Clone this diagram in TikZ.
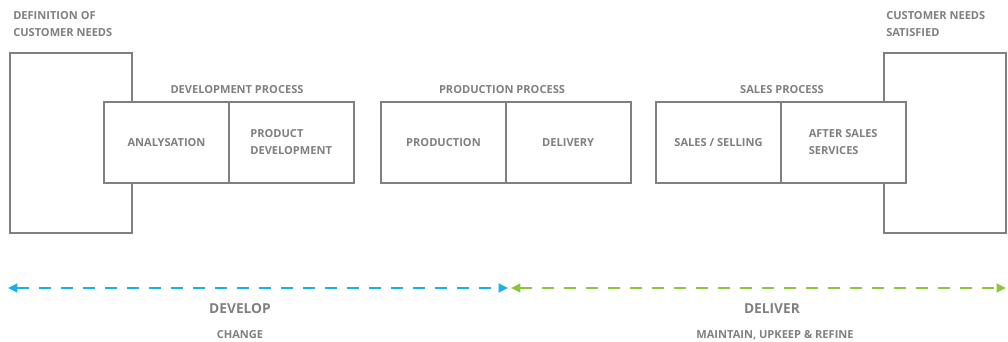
\documentclass[tikz,border=0pt]{standalone}
\usepackage{fontspec}
\setmainfont{Open Sans}
\usetikzlibrary{positioning,arrows.meta}

\definecolor{boxgray}{HTML}{808080}
\definecolor{txtgray}{HTML}{808080}
\definecolor{devblue}{HTML}{1AB0EA}
\definecolor{delgreen}{HTML}{8CC63F}

\tikzset{
  needbox/.style={draw=boxgray, line width=1.5pt, fill=white,
    minimum width=91.5pt, minimum height=135pt, outer sep=0pt},
  cell/.style={draw=boxgray, line width=1.5pt, fill=white,
    minimum width=93.5pt, minimum height=60.75pt, outer sep=0pt, inner sep=0pt,
    align=left, text=txtgray, font=\bfseries\fontsize{8.3}{12.75}\selectfont},
  caption/.style={text=txtgray, inner sep=0pt,
    font=\bfseries\fontsize{8.3}{12.75}\selectfont},
  phase/.style={text=txtgray, inner sep=0pt,
    font=\bfseries\fontsize{10.3}{13}\selectfont},
  span/.style={line width=2.1pt, dash pattern=on 9pt off 7.5pt,
    {Triangle[length=7pt,width=6.5pt]}-{Triangle[length=7pt,width=6.5pt]}}
}

\begin{document}
\begin{tikzpicture}[x=0.75pt,y=-0.75pt]
  \useasboundingbox (0,0) rectangle (1008,342);

  % customer needs, start and end
  \node[needbox] (defn) at (71,143) {};
  \node[needbox] (satis) at (945,143) {};
  \node[caption, anchor=west, align=left] (defnlbl) at (13,24.5) {DEFINITION OF\\CUSTOMER NEEDS};
  \node[caption, anchor=west, align=left] (satislbl) at (886,24.5) {CUSTOMER NEEDS\\SATISFIED};

  % the three processes
  \node[cell] (analyse) at (166.5,142.5) {ANALYSATION};
  \node[cell, right=0pt of analyse] (proddev) {PRODUCT\\DEVELOPMENT};
  \node[caption] (devproc) at (237,90) {DEVELOPMENT PROCESS};

  \node[cell] (product) at (443.5,142.5) {PRODUCTION};
  \node[cell, right=0pt of product] (delivery) {DELIVERY};
  \node[caption] (prodproc) at (502,90) {PRODUCTION PROCESS};

  \node[cell] (selling) at (718.5,142.5) {SALES / SELLING};
  \node[cell, right=0pt of selling] (after) {AFTER SALES\\SERVICES};
  \node[caption] (salesproc) at (782,90) {SALES PROCESS};

  % develop / deliver spans
  \coordinate (devL) at (8,288);
  \coordinate (devR) at (508,288);
  \coordinate (delL) at (511,288);
  \coordinate (delR) at (1006,288);
  \draw[span, devblue] (devL) -- (devR);
  \draw[span, delgreen] (delL) -- (delR);

  \node[phase] (develop) at (240,309) {DEVELOP};
  \node[caption] (change) at (240,335) {CHANGE};
  \node[phase] (deliver) at (772,309) {DELIVER};
  \node[caption] (maintain) at (775,335) {MAINTAIN, UPKEEP \& REFINE};
\end{tikzpicture}
\end{document}
